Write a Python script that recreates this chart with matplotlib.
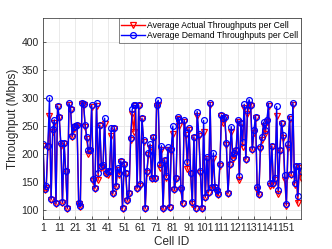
import matplotlib
matplotlib.use("Agg")
import matplotlib.pyplot as plt
import numpy as np

cell_ids = list(range(1, 161))

demand = [218, 138, 143, 215, 300, 120, 245, 261, 112, 286,
          266, 220, 114, 220, 170, 104, 291, 281, 232, 248,
          250, 252, 112, 107, 292, 290, 251, 231, 208, 208,
          287, 156, 140, 291, 166, 252, 178, 180, 264, 167,
          170, 170, 247, 130, 246, 143, 175, 166, 188, 104,
          183, 167, 118, 131, 228, 280, 287, 287, 140, 287,
          146, 264, 225, 104, 169, 201, 218, 158, 231, 158,
          288, 296, 183, 215, 104, 190, 161, 212, 106, 209,
          250, 137, 158, 266, 261, 139, 113, 261, 237, 185,
          246, 167, 114, 231, 104, 276, 236, 169, 104, 260,
          124, 195, 133, 292, 142, 202, 142, 136, 128, 182,
          270, 264, 267, 220, 131, 183, 249, 195, 201, 208,
          261, 161, 256, 222, 289, 192, 279, 297, 288, 209,
          243, 267, 142, 128, 212, 230, 257, 243, 261, 290,
          148, 215, 148, 157, 285, 135, 208, 256, 234, 163,
          110, 218, 266, 165, 292, 148, 179, 125, 178, 169]

actual = [215, 135, 140, 212, 268, 118, 240, 255, 110, 284,
          264, 215, 112, 218, 168, 102, 288, 279, 230, 245,
          248, 250, 110, 105, 290, 288, 249, 226, 200, 205,
          284, 152, 138, 286, 153, 250, 175, 177, 254, 164,
          163, 168, 233, 128, 244, 141, 172, 163, 185, 102,
          180, 164, 116, 128, 225, 272, 240, 285, 138, 285,
          143, 262, 222, 102, 166, 198, 210, 156, 229, 156,
          286, 288, 175, 207, 101, 187, 158, 208, 104, 206,
          236, 135, 156, 263, 250, 136, 111, 258, 234, 173,
          243, 164, 110, 229, 102, 268, 233, 166, 101, 240,
          122, 192, 131, 287, 139, 192, 139, 133, 126, 178,
          268, 255, 264, 217, 129, 180, 240, 192, 198, 205,
          258, 153, 253, 213, 283, 190, 272, 288, 285, 207,
          238, 265, 135, 126, 209, 225, 250, 235, 258, 285,
          143, 213, 145, 154, 268, 128, 205, 253, 228, 153,
          108, 210, 263, 162, 288, 145, 176, 112, 175, 157]

x_ticks = list(range(1, 152, 10))

plt.rcParams['font.family'] = ['Liberation Sans', 'DejaVu Sans']

fig = plt.figure(figsize=(3.32, 2.49), dpi=100)
ax = fig.add_axes([0.1295, 0.1205, 0.7771, 0.8072])

ax.plot(cell_ids, actual, color='red', marker='v', markersize=4.2,
        markerfacecolor='none', markeredgewidth=0.9, linewidth=1.0,
        label='Average Actual Throughputs per Cell')
ax.plot(cell_ids, demand, color='blue', marker='o', markersize=4.2,
        markerfacecolor='none', markeredgewidth=0.9, linewidth=1.0,
        label='Average Demand Throughputs per Cell')

ax.set_xlim(1, 160)
ax.set_ylim(84, 443)
ax.set_xticks(x_ticks)
ax.set_xticklabels([str(t) for t in x_ticks])
ax.set_yticks([100, 150, 200, 250, 300, 350, 400])
ax.grid(True, color='#e6e6e6', linewidth=0.6)
ax.set_axisbelow(True)
ax.tick_params(direction='in', length=2.5, width=0.5, labelsize=7.5,
               colors='#262626', pad=3)
for s in ax.spines.values():
    s.set_color('#262626')
    s.set_linewidth(0.5)
ax.set_xlabel('Cell ID', fontsize=8.5, color='#262626', labelpad=2)
ax.set_ylabel('Throughput (Mbps)', fontsize=8.5, color='#262626', labelpad=2)

leg = ax.legend(loc='upper right', fontsize=6.2, frameon=True, fancybox=False,
                borderpad=0.3, handlelength=2.7, handletextpad=0.3,
                labelspacing=0.2, borderaxespad=0.0)
leg.get_frame().set_edgecolor('#262626')
leg.get_frame().set_linewidth(0.5)

fig.savefig('out.png', dpi=100)
